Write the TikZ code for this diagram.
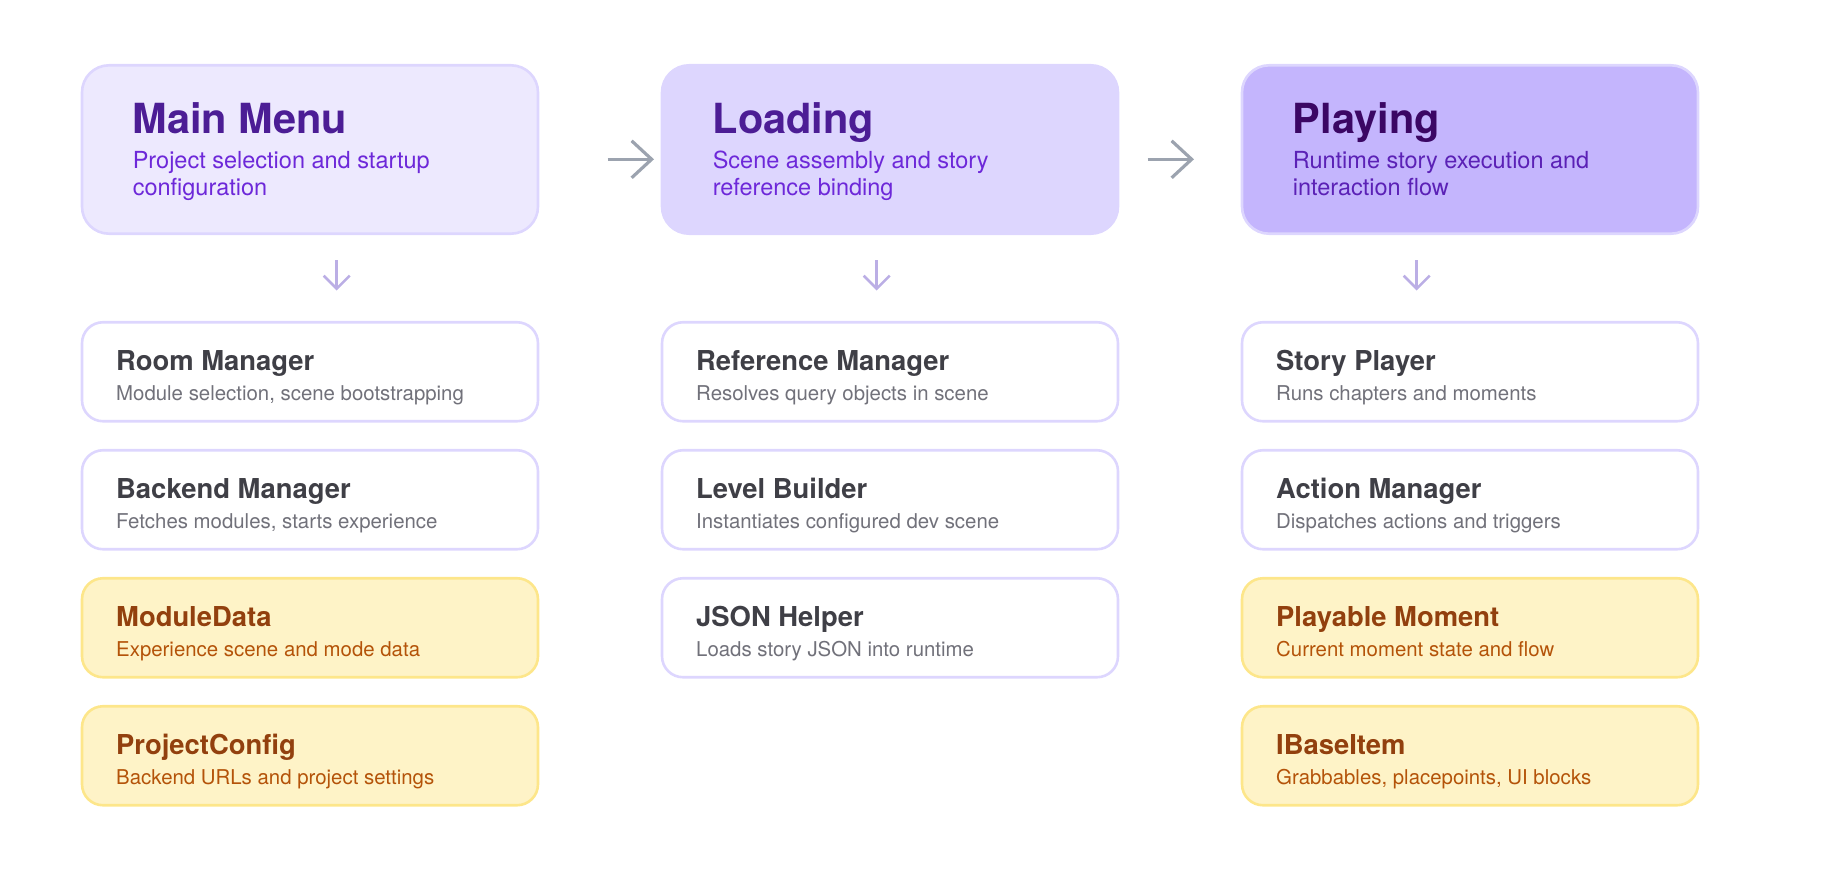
\documentclass[tikz,border=0pt]{standalone}
\usepackage{fontspec}
\setmainfont{TeX Gyre Heros}
\usetikzlibrary{arrows.meta}
\definecolor{lavA}{HTML}{EDE9FE}
\definecolor{lavB}{HTML}{DDD6FE}
\definecolor{lavC}{HTML}{C4B5FD}
\definecolor{lavBorder}{HTML}{DDD6FE}
\definecolor{ttlPurple}{HTML}{4C1D95}
\definecolor{ttlDeep}{HTML}{3B0764}
\definecolor{subPurple}{HTML}{6D28D9}
\definecolor{subDeep}{HTML}{5B21B6}
\definecolor{arrGray}{HTML}{9CA3AF}
\definecolor{arrLav}{HTML}{BBAEE5}
\definecolor{ttlGray}{HTML}{3F3F46}
\definecolor{subGray}{HTML}{71717A}
\definecolor{ylwFill}{HTML}{FEF3C7}
\definecolor{ylwBorder}{HTML}{FDE68A}
\definecolor{ttlBrown}{HTML}{92400E}
\definecolor{subBrown}{HTML}{B45309}
\begin{document}
\begin{tikzpicture}[x=1pt,y=-1pt,
  bigbox/.style={draw=lavBorder, line width=2.6pt, rounded corners=27pt,
    minimum width=456pt, minimum height=168.4pt, inner sep=0pt},
  smallbox/.style={draw=lavBorder, fill=white, line width=2.6pt, rounded corners=21pt,
    minimum width=456pt, minimum height=99pt, inner sep=0pt},
  databox/.style={smallbox, draw=ylwBorder, fill=ylwFill},
  bigttl/.style={anchor=base west, inner sep=0pt, font=\fontsize{41.5}{45}\selectfont\bfseries},
  bigsub/.style={anchor=base west, inner sep=0pt, font=\fontsize{23.5}{26}\selectfont},
  smttl/.style={anchor=base west, inner sep=0pt, font=\fontsize{27.4}{30}\selectfont\bfseries},
  smsub/.style={anchor=base west, inner sep=0pt, font=\fontsize{20.4}{24}\selectfont},
  harrow/.style={draw=arrGray, line width=3.2pt, -{Straight Barb[length=20pt, width=37pt, line width=3.2pt]}},
  varrow/.style={draw=arrLav, line width=2.6pt, -{Straight Barb[length=13pt, width=26pt, line width=2.6pt]}}
]
\useasboundingbox (0,0) rectangle (1840,872);

% stage boxes
\node[bigbox, fill=lavA] (mm) at (310,149.5) {};
\node[bigbox, fill=lavB] (ld) at (890,149.5) {};
\node[bigbox, fill=lavC] (pl) at (1470,149.5) {};

\node[bigttl, text=ttlPurple] (mmT) at (132.6,134) {Main Menu};
\node[bigsub, text=subPurple] (mmS1) at (132.6,169) {Project selection and startup};
\node[bigsub, text=subPurple] (mmS2) at (132.6,195.5) {configuration};
\node[bigttl, text=ttlPurple] (ldT) at (712.6,134) {Loading};
\node[bigsub, text=subPurple] (ldS1) at (712.6,169) {Scene assembly and story};
\node[bigsub, text=subPurple] (ldS2) at (712.6,195.5) {reference binding};
\node[bigttl, text=ttlDeep] (plT) at (1292.6,134) {Playing};
\node[bigsub, text=subDeep] (plS1) at (1292.6,169) {Runtime story execution and};
\node[bigsub, text=subDeep] (plS2) at (1292.6,195.5) {interaction flow};

% horizontal arrows
\coordinate (h1a) at (607.7,159.3);
\coordinate (h1b) at (654,159.3);
\coordinate (h2a) at (1147.7,159.3);
\coordinate (h2b) at (1194,159.3);
\draw[harrow] (h1a) -- (h1b);
\draw[harrow] (h2a) -- (h2b);

% down arrows
\coordinate (d1a) at (336.7,260);
\coordinate (d1b) at (336.7,290.5);
\coordinate (d2a) at (876.7,260);
\coordinate (d2b) at (876.7,290.5);
\coordinate (d3a) at (1416.7,260);
\coordinate (d3b) at (1416.7,290.5);
\draw[varrow] (d1a) -- (d1b);
\draw[varrow] (d2a) -- (d2b);
\draw[varrow] (d3a) -- (d3b);

% column 1
\node[smallbox] (rm) at (310,371.75) {};
\node[smttl, text=ttlGray] at (116,370) {Room Manager};
\node[smsub, text=subGray] at (116,400) {Module selection, scene bootstrapping};
\node[smallbox] (bm) at (310,499.75) {};
\node[smttl, text=ttlGray] at (116,498) {Backend Manager};
\node[smsub, text=subGray] at (116,528) {Fetches modules, starts experience};
\node[databox] (md) at (310,627.75) {};
\node[smttl, text=ttlBrown] at (116,626) {ModuleData};
\node[smsub, text=subBrown] at (116,656) {Experience scene and mode data};
\node[databox] (pc) at (310,755.75) {};
\node[smttl, text=ttlBrown] at (116,754) {ProjectConfig};
\node[smsub, text=subBrown] at (116,784) {Backend URLs and project settings};

% column 2
\node[smallbox] (rf) at (890,371.75) {};
\node[smttl, text=ttlGray] at (696,370) {Reference Manager};
\node[smsub, text=subGray] at (696,400) {Resolves query objects in scene};
\node[smallbox] (lb) at (890,499.75) {};
\node[smttl, text=ttlGray] at (696,498) {Level Builder};
\node[smsub, text=subGray] at (696,528) {Instantiates configured dev scene};
\node[smallbox] (jh) at (890,627.75) {};
\node[smttl, text=ttlGray] at (696,626) {JSON Helper};
\node[smsub, text=subGray] at (696,656) {Loads story JSON into runtime};

% column 3
\node[smallbox] (sp) at (1470,371.75) {};
\node[smttl, text=ttlGray] at (1276,370) {Story Player};
\node[smsub, text=subGray] at (1276,400) {Runs chapters and moments};
\node[smallbox] (am) at (1470,499.75) {};
\node[smttl, text=ttlGray] at (1276,498) {Action Manager};
\node[smsub, text=subGray] at (1276,528) {Dispatches actions and triggers};
\node[databox] (pm) at (1470,627.75) {};
\node[smttl, text=ttlBrown] at (1276,626) {Playable Moment};
\node[smsub, text=subBrown] at (1276,656) {Current moment state and flow};
\node[databox] (bi) at (1470,755.75) {};
\node[smttl, text=ttlBrown] at (1276,754) {IBaseItem};
\node[smsub, text=subBrown] at (1276,784) {Grabbables, placepoints, UI blocks};
\end{tikzpicture}
\end{document}
